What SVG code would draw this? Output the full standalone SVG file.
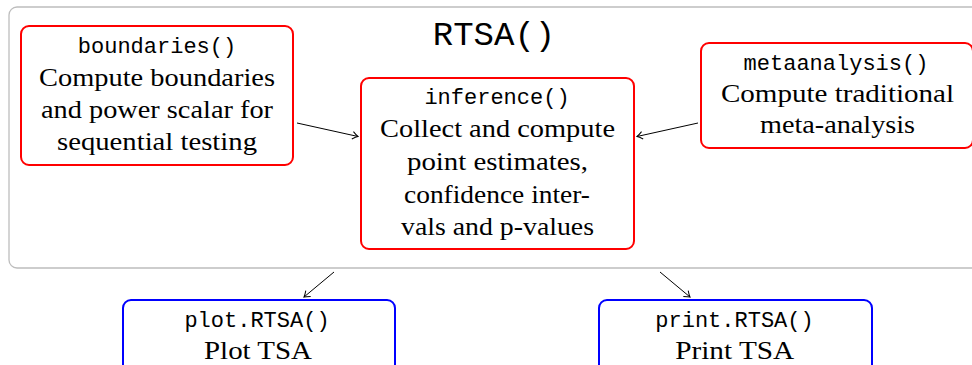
<svg xmlns="http://www.w3.org/2000/svg" width="972" height="365" viewBox="0 0 972 365">
<style>
.outer{fill:#fff;stroke:#bdbdbd;stroke-width:1.3}
.red{fill:#fff;stroke:#ff0000;stroke-width:2}
.blue{fill:#fff;stroke:#0000ff;stroke-width:2}
.mono{font-family:"Liberation Mono","DejaVu Sans Mono",monospace;font-size:22px;fill:#000;text-anchor:middle}
.title{font-family:"Liberation Mono","DejaVu Sans Mono",monospace;font-size:34px;fill:#000;text-anchor:middle}
.serif{font-family:"Liberation Serif","Times New Roman",serif;font-size:25px;fill:#000;text-anchor:middle}
.conn{stroke:#000;stroke-width:1;fill:none}
</style>
<defs>
<marker id="arr" markerUnits="userSpaceOnUse" markerWidth="12" markerHeight="12" refX="0" refY="0" viewBox="-7 -6 9 12" orient="auto" overflow="visible">
<path d="M-5.5,-3.8 Q-2,-0.9 0,0 Q-2,0.9 -5.5,3.8" stroke="#000" stroke-width="1" fill="none"/>
</marker>
</defs>
<rect width="972" height="365" fill="#fff"/>
<g id="rtsa">
<rect class="outer" x="9" y="7" width="990" height="261" rx="8"/>
<text class="title" x="494" y="45">RTSA()</text>
</g>
<g id="boundaries">
<rect class="red" x="21" y="26" width="272" height="139" rx="8"/>
<text class="mono" x="157" y="53">boundaries()</text>
<text class="serif" x="157" y="86" textLength="236" lengthAdjust="spacingAndGlyphs">Compute boundaries</text>
<text class="serif" x="157" y="118" textLength="232" lengthAdjust="spacingAndGlyphs">and power scalar for</text>
<text class="serif" x="157" y="150" textLength="200" lengthAdjust="spacingAndGlyphs">sequential testing</text>
</g>
<g id="inference">
<rect class="red" x="361" y="78" width="273" height="171" rx="8"/>
<text class="mono" x="497" y="104">inference()</text>
<text class="serif" x="497.5" y="137" textLength="235" lengthAdjust="spacingAndGlyphs">Collect and compute</text>
<text class="serif" x="497.5" y="170" textLength="181" lengthAdjust="spacingAndGlyphs">point estimates,</text>
<text class="serif" x="497" y="202.5" textLength="186" lengthAdjust="spacingAndGlyphs">confidence inter-</text>
<text class="serif" x="497.5" y="235" textLength="193" lengthAdjust="spacingAndGlyphs">vals and p-values</text>
</g>
<g id="metaanalysis">
<rect class="red" x="701" y="43" width="272" height="105" rx="8"/>
<text class="mono" x="836" y="70">metaanalysis()</text>
<text class="serif" x="837.5" y="101.5" textLength="233" lengthAdjust="spacingAndGlyphs">Compute traditional</text>
<text class="serif" x="837.5" y="133" textLength="155" lengthAdjust="spacingAndGlyphs">meta-analysis</text>
</g>
<g id="plot">
<rect class="blue" x="123" y="300" width="272" height="75" rx="8"/>
<text class="mono" x="257" y="327">plot.RTSA()</text>
<text class="serif" x="258" y="359" textLength="108" lengthAdjust="spacingAndGlyphs">Plot TSA</text>
</g>
<g id="print">
<rect class="blue" x="599" y="300" width="273" height="75" rx="8"/>
<text class="mono" x="734.5" y="327">print.RTSA()</text>
<text class="serif" x="734.7" y="359" textLength="119" lengthAdjust="spacingAndGlyphs">Print TSA</text>
</g>
<g id="connectors">
<line class="conn" x1="297" y1="123" x2="358" y2="136.5" marker-end="url(#arr)"/>
<line class="conn" x1="698" y1="123" x2="637" y2="136.5" marker-end="url(#arr)"/>
<line class="conn" x1="334" y1="272" x2="304" y2="297" marker-end="url(#arr)"/>
<line class="conn" x1="660" y1="272" x2="690" y2="297" marker-end="url(#arr)"/>
</g>
</svg>
